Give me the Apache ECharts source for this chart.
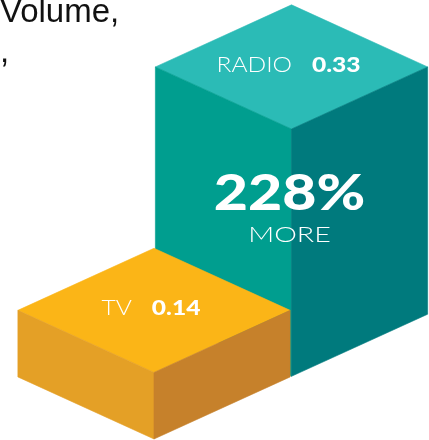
<!DOCTYPE html>
<html>
<head>
<meta charset="utf-8">
<script src="https://cdn.jsdelivr.net/npm/echarts@6/dist/echarts.min.js"></script>
<style>
  html, body { margin: 0; padding: 0; background: #ffffff; }
  #chart { width: 429px; height: 440px; }
</style>
</head>
<body>
<div id="chart"></div>
<script>
// Media volume, drawn as isometric blocks
const categories = ['TV', 'RADIO'];
const values = [0.14, 0.33];
const headingLines = ['Volume,', ','];
const deltaFigure = '228%';
const deltaWord = 'MORE';

const faceColors = {
  TV:    { top: '#FBB517', left: '#E4A026', right: '#C6812B' },
  RADIO: { top: '#2BBBB6', left: '#009E8F', right: '#007A7D' }
};

const Y_MIN = 0.07;
const Y_MAX = 0.5;
const ISO = 0.456;          // vertical / horizontal ratio of the isometric edges
const LABEL_FONT = 'Lato, "Open Sans", sans-serif';
const WIDE = 1.17;          // horizontal stretch for the wide label lettering

function face(points, color, z2) {
  return {
    type: 'polygon',
    z2: z2,
    shape: { points: points },
    style: { fill: color, stroke: color, lineWidth: 0.6 }
  };
}

function renderBlock(params, api) {
  const idx = params.dataIndex;
  const name = categories[idx];
  const val = api.value(1);
  const colors = faceColors[name];
  const z = (categories.length - idx) * 10;

  const base = api.coord([idx, Y_MIN]);
  const head = api.coord([idx, val]);
  const first = api.coord([0, Y_MIN]);
  const hw = api.size([1, 0])[0] * 0.99;
  const hd = hw * ISO;

  const cx = base[0];
  const lift = (cx - first[0]) * ISO;   // blocks further right sit further back
  const yb = base[1] - lift;
  const yt = head[1] - lift;

  const children = [
    face([[cx, yt], [cx - hw, yt - hd], [cx, yt - 2 * hd], [cx + hw, yt - hd]], colors.top, z),
    face([[cx - hw, yt - hd], [cx, yt], [cx, yb], [cx - hw, yb - hd]], colors.left, z),
    face([[cx, yt], [cx + hw, yt - hd], [cx + hw, yb - hd], [cx, yb]], colors.right, z),
    {
      type: 'text',
      z2: z + 1,
      x: cx - 3,
      y: yt - hd - 2,
      scaleX: WIDE,
      style: {
        text: '{n|' + name + '}{v|' + val.toFixed(2) + '}',
        align: 'center',
        verticalAlign: 'middle',
        rich: {
          n: { fontFamily: LABEL_FONT, fontWeight: 300, fontSize: 21, fill: '#ffffff' },
          v: { fontFamily: LABEL_FONT, fontWeight: 900, fontSize: 21, fill: '#ffffff',
               padding: [0, 0, 0, 17] }
        }
      }
    }
  ];

  if (idx === categories.length - 1) {
    children.push({
      type: 'text',
      z2: z + 1,
      x: cx - 2,
      y: yt + 65,
      scaleX: 1.18,
      style: {
        text: deltaFigure,
        align: 'center',
        verticalAlign: 'middle',
        fontFamily: LABEL_FONT,
        fontWeight: 900,
        fontSize: 50,
        fill: '#ffffff'
      }
    });
    children.push({
      type: 'text',
      z2: z + 1,
      x: cx - 2,
      y: yt + 106,
      scaleX: 1.3,
      style: {
        text: deltaWord,
        align: 'center',
        verticalAlign: 'middle',
        fontFamily: LABEL_FONT,
        fontWeight: 300,
        fontSize: 22,
        fill: '#ffffff'
      }
    });
  }

  return { type: 'group', children: children };
}

const chart = echarts.init(document.getElementById('chart'), null, { renderer: 'canvas' });

chart.setOption({
  animation: false,
  backgroundColor: '#ffffff',
  grid: { left: 85.25, right: 68.75, top: 30, bottom: 1 },
  xAxis: { type: 'category', data: categories, show: false },
  yAxis: { type: 'value', min: Y_MIN, max: Y_MAX, show: false },
  graphic: headingLines.map(function (line, i) {
    return {
      type: 'text',
      x: 0,
      y: 12.5 + i * 40,
      style: {
        text: line,
        verticalAlign: 'middle',
        font: '33px "Liberation Sans", Arial, sans-serif',
        fill: '#111111'
      }
    };
  }),
  series: [{
    type: 'custom',
    renderItem: renderBlock,
    encode: { x: 0, y: 1 },
    data: values.map(function (v, i) { return [i, v]; })
  }]
});
</script>
</body>
</html>
